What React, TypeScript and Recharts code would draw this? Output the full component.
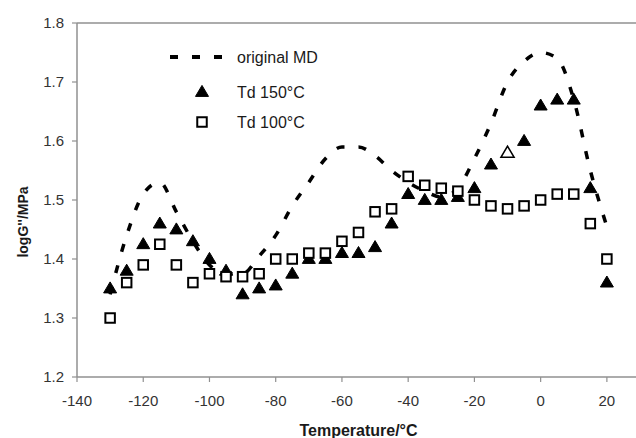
import React from 'react';
import { ComposedChart, XAxis, YAxis, Line, Scatter, ReferenceLine } from 'recharts';

// temperatures (°C) shared by all three series
const temps = [
    -130, -125, -120, -115, -110, -105, -100, -95, -90, -85, -80, -75, -70, -65, -60, -55,
    -50, -45, -40, -35, -30, -25, -20, -15, -10, -5, 0, 5, 10, 15, 20,
];

const originalMD = [
    1.34, 1.44, 1.51, 1.53, 1.48, 1.43, 1.39, 1.375, 1.375, 1.405, 1.44, 1.49, 1.53, 1.57, 1.59, 1.59,
    1.575, 1.55, 1.53, 1.515, 1.505, 1.52, 1.57, 1.63, 1.70, 1.735, 1.75, 1.74, 1.67, 1.55, 1.455,
];

const td150 = [
    1.35, 1.38, 1.425, 1.46, 1.45, 1.43, 1.40, 1.38, 1.34, 1.35, 1.355, 1.375, 1.40, 1.40, 1.41, 1.41,
    1.42, 1.46, 1.51, 1.50, 1.50, 1.505, 1.52, 1.56, 1.58, 1.60, 1.66, 1.67, 1.67, 1.52, 1.36,
];

const td100 = [
    1.30, 1.36, 1.39, 1.425, 1.39, 1.36, 1.375, 1.37, 1.37, 1.375, 1.40, 1.40, 1.41, 1.41, 1.43, 1.445,
    1.48, 1.485, 1.54, 1.525, 1.52, 1.515, 1.50, 1.49, 1.485, 1.49, 1.50, 1.51, 1.51, 1.46, 1.40,
];

// the one Td 150 point drawn with an open marker
const td150Open = [-10];

const xTicks = [-140, -120, -100, -80, -60, -40, -20, 0, 20];
const yTicks = [1.2, 1.3, 1.4, 1.5, 1.6, 1.7, 1.8];

const mdRows = temps.map((t, i) => ({ t, v: originalMD[i] }));
const rows150 = temps.map((t, i) => ({ t, v: td150[i] }));
const rows100 = temps.map((t, i) => ({ t, v: td100[i] }));

const FONT = '"Liberation Sans", Arial, sans-serif';
const AXIS = '#909090';

const Triangle = ({ cx, cy, payload }: any) => {
    if (cx == null || cy == null) return null;
    const open = td150Open.includes(payload?.t);
    const h = 11;
    const w = 13;
    const pts = `${cx},${cy - h * 0.6} ${cx - w / 2},${cy + h * 0.4} ${cx + w / 2},${cy + h * 0.4}`;
    return <polygon points={pts} fill={open ? '#fff' : '#000'} stroke="#000" strokeWidth={open ? 1.6 : 1} />;
};

const Square = ({ cx, cy }: any) => {
    if (cx == null || cy == null) return null;
    const s = 9.5;
    return <rect x={cx - s / 2} y={cy - s / 2} width={s} height={s} fill="#fff" stroke="#000" strokeWidth={2} />;
};

// legend sits inside the plot, top-left, like the original
const LegendBox = () => (
    <svg width={200} height={100} style={{ position: 'absolute', left: 165, top: 40 }}>
        <line x1={5} y1={17} x2={63} y2={17} stroke="#000" strokeWidth={4} strokeDasharray="8 14" />
        <text x={72} y={23} fontSize={16} fontFamily={FONT} fill="#1a1a1a">original MD</text>
        <Triangle cx={37} cy={52} payload={{}} />
        <text x={72} y={58} fontSize={16} fontFamily={FONT} fill="#1a1a1a">Td 150°C</text>
        <Square cx={37} cy={82} />
        <text x={72} y={88} fontSize={16} fontFamily={FONT} fill="#1a1a1a">Td 100°C</text>
    </svg>
);

const YTitle = ({ viewBox }: any) => {
    const x = viewBox.x + 23;
    const y = viewBox.y + viewBox.height / 2 + 22;
    return (
        <text x={x} y={y} transform={`rotate(-90, ${x}, ${y})`} textAnchor="middle" dominantBaseline="central"
            fontSize={14} fontWeight="bold" fontFamily={FONT} fill="#1a1a1a">
            logG''/MPa
        </text>
    );
};

export default function App() {
    return (
        <div style={{ position: 'absolute', left: 0, top: 0, width: 636, height: 438, overflow: 'hidden', background: '#fff' }}>
            <ComposedChart width={640} height={438} margin={{ top: 23, right: 0, bottom: 0, left: 0 }}>
                <XAxis
                    dataKey="t"
                    type="number"
                    domain={[-140, 30]}
                    ticks={xTicks}
                    height={61}
                    tickSize={5}
                    tickMargin={13}
                    axisLine={{ stroke: AXIS, strokeWidth: 1.5 }}
                    tickLine={{ stroke: AXIS, strokeWidth: 1.2 }}
                    tick={{ fill: '#333', fontSize: 15, fontFamily: FONT }}
                    label={{ value: 'Temperature/°C', position: 'insideBottom', offset: 2, fill: '#1a1a1a', fontSize: 16, fontWeight: 'bold', fontFamily: FONT }}
                />
                <YAxis
                    type="number"
                    domain={[1.2, 1.8]}
                    ticks={yTicks}
                    width={77}
                    tickSize={5}
                    tickMargin={8}
                    tickFormatter={(v: number) => v.toFixed(1)}
                    axisLine={{ stroke: AXIS, strokeWidth: 1.5 }}
                    tickLine={{ stroke: AXIS, strokeWidth: 1.2 }}
                    tick={{ fill: '#333', fontSize: 15, fontFamily: FONT }}
                    label={<YTitle />}
                />
                <ReferenceLine y={1.8} stroke={AXIS} strokeWidth={1.5} />
                <Line
                    data={mdRows}
                    dataKey="v"
                    type="monotone"
                    stroke="#000"
                    strokeWidth={3.5}
                    strokeDasharray="8 14"
                    dot={false}
                    isAnimationActive={false}
                />
                <Scatter data={rows150} dataKey="v" shape={<Triangle />} isAnimationActive={false} />
                <Scatter data={rows100} dataKey="v" shape={<Square />} isAnimationActive={false} />
            </ComposedChart>
            <LegendBox />
        </div>
    );
}
